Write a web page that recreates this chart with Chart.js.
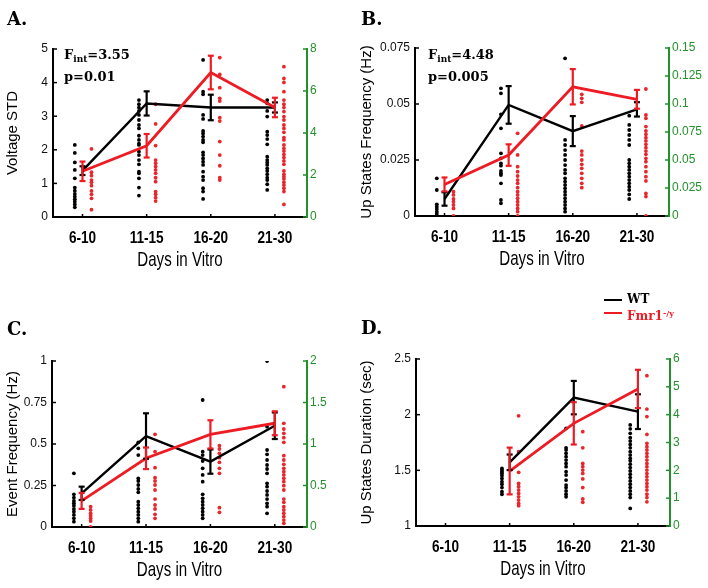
<!DOCTYPE html>
<html>
<head>
<meta charset="utf-8">
<script src="https://cdn.jsdelivr.net/npm/chart.js@4/dist/chart.umd.min.js"></script>
<style>
  body { margin: 0; background: #fff; }
  #fig { position: relative; width: 708px; height: 588px; overflow: hidden; background: #fff; }
  .panel { position: absolute; }
  .tag { position: absolute; font: bold 18px 'DejaVu Serif', serif; color: #000; line-height: 20px; }
  .stat { position: absolute; font: bold 13px 'DejaVu Serif', serif; color: #000; line-height: 17px; white-space: nowrap; }
  .stat sub { font-size: 9px; vertical-align: -3px; }
  .key { position: absolute; height: 2px; width: 18px; }
  .keytxt { position: absolute; font: bold 12px 'DejaVu Serif', serif; line-height: 14px; white-space: nowrap; }
  .keytxt sup { font-size: 8px; vertical-align: 4px; }
</style>
</head>
<body>
<div id="fig">
  <canvas id="chartA" class="panel" width="354" height="290" style="left:0;top:0"></canvas>
  <canvas id="chartB" class="panel" width="354" height="290" style="left:354px;top:0"></canvas>
  <canvas id="chartC" class="panel" width="354" height="298" style="left:0;top:290px"></canvas>
  <canvas id="chartD" class="panel" width="354" height="298" style="left:354px;top:290px"></canvas>

  <div class="tag" style="left:7px;top:9px">A.</div>
  <div class="tag" style="left:361px;top:9px">B.</div>
  <div class="tag" style="left:7px;top:319px">C.</div>
  <div class="tag" style="left:361px;top:318px">D.</div>

  <div class="stat" style="left:64px;top:46px">F<sub>int</sub>=3.55<br>p=0.01</div>
  <div class="stat" style="left:428px;top:46px">F<sub>int</sub>=4.48<br>p=0.005</div>

  <div class="key" style="left:604px;top:299px;background:#000"></div>
  <div class="keytxt" style="left:627px;top:292px;color:#000">WT</div>
  <div class="key" style="left:604px;top:312px;background:#ed1c24"></div>
  <div class="keytxt" style="left:627px;top:306px;color:#ed1c24">Fmr1<sup>-/y</sup></div>
</div>
<script>
const categories = ['6-10', '11-15', '16-20', '21-30']

// A. voltage STD (means on left axis, single cells on right axis)
const voltTicks = [0, 1, 2, 3, 4, 5]
const voltRightTicks = [0, 2, 4, 6, 8]
const voltWtMean = [1.38, 3.38, 3.26, 3.26]
const voltWtErr = [0.13, 0.36, 0.38, 0.15]
const voltKoMean = [1.36, 2.12, 4.30, 3.26]
const voltKoErr = [0.29, 0.35, 0.50, 0.29]
const voltWtDots = [
  [3.43, 3.05, 2.6, 2.24, 1.84, 1.4, 1.25, 1.1, 0.97, 0.84, 0.73, 0.6, 0.46],
  [5.57, 5.37, 5.21, 5.05, 4.86, 4.62, 4.38, 4.22, 3.87, 3.67, 3.49, 3.43, 3.11, 2.95, 2.71, 2.51, 2.16, 2.08, 1.84, 1.4, 1.02],
  [7.48, 5.97, 5.84, 4.86, 4.67, 4.1, 3.98, 3.83, 3.67, 3.56, 3.08, 2.95, 2.79, 2.63, 2.48, 2.16, 1.92, 1.76, 1.37, 1.21, 0.86],
  [5.57, 5.41, 5.05, 4.78, 4.06, 3.9, 3.71, 3.46, 2.87, 2.71, 2.6, 2.48, 2.32, 2.19, 2.03, 1.87, 1.76, 1.56, 1.29]
]
const voltKoDots = [
  [3.24, 2.13, 1.97, 1.76, 1.65, 1.49, 1.24, 1.08, 0.89, 0.35],
  [5.37, 4.43, 3.4, 2.71, 2.56, 2.4, 2.24, 2.08, 1.87, 1.68, 1.21, 1.08, 0.92, 0.76],
  [7.59, 6.79, 6.16, 5.65, 5.52, 4.73, 4.57, 3.59, 2.95, 2.44, 1.87, 1.76],
  [7.16, 6.6, 6.41, 5.97, 5.57, 5.37, 5.21, 5.02, 4.78, 4.62, 4.38, 4.22, 4.03, 3.78, 3.67, 3.43, 3.27, 3.14, 2.98, 2.83, 2.67, 2.51, 2.19, 2.03, 1.92, 1.81, 1.65, 1.52, 1.37, 1.21, 0.6]
]

// B. up states frequency
const upfTicks = [0, 0.025, 0.05, 0.075]
const upfRightTicks = [0, 0.025, 0.05, 0.075, 0.1, 0.125, 0.15]
const upfWtMean = [0.0076, 0.0496, 0.0379, 0.0476]
const upfWtErr = [0.0030, 0.0084, 0.0067, 0.0032]
const upfKoMean = [0.0141, 0.0272, 0.0577, 0.0521]
const upfKoErr = [0.0031, 0.0048, 0.0079, 0.0042]
const upfWtDots = [
  [0.0336, 0.0232, 0.0104, 0.0083, 0.0063, 0.0039, 0.0018],
  [0.114, 0.1095, 0.0908, 0.0783, 0.056, 0.0515, 0.047, 0.0449, 0.0402, 0.0381, 0.0366, 0.0292, 0.0143, 0.0113],
  [0.1408, 0.0679, 0.0634, 0.0589, 0.0545, 0.05, 0.0455, 0.0411, 0.0381, 0.0336, 0.0307, 0.0277, 0.0247, 0.0217, 0.0188, 0.0158, 0.0128, 0.0098, 0.0068, 0.0039],
  [0.0896, 0.0813, 0.0768, 0.0723, 0.0679, 0.0634, 0.05, 0.047, 0.044, 0.0411, 0.0381, 0.0351, 0.0321, 0.0292, 0.0262, 0.0232, 0.0193, 0.0152]
]
const upfKoDots = [
  [0.0217, 0.0188, 0.0152, 0.0128, 0.0098, 0.0068, 0],
  [0.0738, 0.0545, 0.044, 0.0396, 0.0357, 0.0321, 0.0292, 0.0253, 0.0217, 0.0188, 0.0158, 0.0128, 0.0098, 0.0068, 0.0039, 0],
  [0.1086, 0.1051, 0.1015, 0.0804, 0.058, 0.0545, 0.05, 0.0461, 0.0426, 0.0381, 0.0336, 0.0292, 0.0253],
  [0.1134, 0.0902, 0.0872, 0.0798, 0.0759, 0.0729, 0.0699, 0.067, 0.064, 0.061, 0.058, 0.0551, 0.0515, 0.0485, 0.044, 0.0396, 0.0351, 0.0313, 0.0202, 0.0173, 0]
]

// C. event frequency
const evTicks = [0, 0.25, 0.5, 0.75, 1]
const evRightTicks = [0, 0.5, 1, 1.5, 2]
const evWtMean = [0.203, 0.548, 0.394, 0.610]
const evWtErr = [0.040, 0.137, 0.073, 0.080]
const evKoMean = [0.157, 0.414, 0.558, 0.625]
const evKoErr = [0.048, 0.065, 0.085, 0.072]
const evWtDots = [
  [0.647, 0.394, 0.353, 0.313, 0.285, 0.257, 0.217, 0.185, 0.145, 0.104, 0.064],
  [1.02, 0.948, 0.867, 0.586, 0.554, 0.506, 0.458, 0.418, 0.305, 0.265, 0.225, 0.185, 0.145, 0.104, 0.064],
  [1.53, 0.908, 0.867, 0.795, 0.707, 0.627, 0.546, 0.394, 0.345, 0.305, 0.265, 0.225, 0.185, 0.145, 0.104],
  [2.0, 1.209, 0.928, 0.876, 0.807, 0.747, 0.699, 0.647, 0.526, 0.486, 0.434, 0.386, 0.337, 0.285, 0.245, 0.165]
]
const evKoDots = [
  [0.245, 0.205, 0.165, 0.137, 0.104, 0.072, 0],
  [1.116, 0.908, 0.715, 0.594, 0.554, 0.506, 0.446, 0.337, 0.265, 0.217, 0.153, 0.104],
  [0.98, 0.94, 0.888, 0.835, 0.779, 0.707, 0.647, 0.233, 0.177],
  [1.691, 1.249, 1.181, 1.129, 1.076, 1.02, 0.859, 0.807, 0.755, 0.707, 0.667, 0.627, 0.586, 0.546, 0.498, 0.446, 0.337, 0.297, 0.245, 0.205, 0.165, 0.125, 0.084, 0.044]
]

// D. up states duration (no up states at 6-10)
const durTicks = [1, 1.5, 2, 2.5]
const durRightTicks = [0, 1, 2, 3, 4, 5, 6]
const durWtMean = [null, 1.572, 2.153, 2.027]
const durWtErr = [null, 0.07, 0.15, 0.156]
const durKoMean = [null, 1.494, 1.922, 2.231]
const durKoErr = [null, 0.21, 0.19, 0.172]
const durWtDots = [
  [],
  [2.07, 2.01, 1.95, 1.89, 1.81, 1.71, 1.59, 1.5, 1.38, 1.23, 1.14],
  [3.51, 2.81, 2.73, 2.61, 2.49, 2.37, 2.25, 2.13, 1.95, 1.83, 1.65, 1.47, 1.38, 1.26, 1.14, 1.05],
  [3.63, 3.49, 3.33, 3.17, 3.05, 2.93, 2.81, 2.67, 2.55, 2.43, 2.34, 2.22, 2.1, 1.98, 1.86, 1.74, 1.62, 1.5, 1.38, 1.26, 1.14, 1.02, 0.63]
]
const durKoDots = [
  [],
  [3.96, 2.67, 1.93, 1.53, 1.41, 1.29, 1.17, 1.05, 0.93, 0.81, 0.73],
  [3.39, 2.81, 2.25, 2.13, 2.01, 1.89, 1.69, 1.38, 0.97, 0.85],
  [5.4, 4.2, 3.93, 3.29, 2.97, 2.85, 2.73, 2.61, 2.49, 2.37, 2.25, 2.13, 2.01, 1.89, 1.77, 1.65, 1.53, 1.41, 1.29, 1.14, 1.02, 0.87]
]

const BLACK = '#000'
const RED = '#ed1c24'
const DOT_RED = '#e8262c'
const GREEN = '#23912a'
const SANS = "'Liberation Sans', Arial, sans-serif"

const fmt = v => String(+Number(v).toFixed(4))

const means = arr => arr.map((v, i) => ({ x: i + 1, y: v }))
const dots = (groups, shift) => groups.flatMap((g, i) => g.map(v => ({ x: i + 1 + shift, y: v })))

// inward ticks, error bars and the narrow x-axis lettering of the original figure
const decorations = {
  id: 'decorations',
  afterDatasetsDraw (chart) {
    const { ctx, chartArea: a, scales: { x, y, y2 } } = chart
    const seg = (x1, y1, x2, y2p) => { ctx.beginPath(); ctx.moveTo(x1, y1); ctx.lineTo(x2, y2p); ctx.stroke() }
    ctx.save()
    ctx.lineWidth = 1.5
    ctx.strokeStyle = BLACK
    y.ticks.forEach(t => { const p = y.getPixelForValue(t.value); seg(a.left, p, a.left + 4, p) })
    x.ticks.forEach(t => { const p = x.getPixelForValue(t.value); seg(p, a.bottom, p, a.bottom - 3) })
    ctx.strokeStyle = GREEN
    y2.ticks.forEach(t => { const p = y2.getPixelForValue(t.value); seg(a.right - 4, p, a.right, p) })

    const bars = chart.data.datasets.filter(ds => ds.err).reverse()
    bars.forEach(ds => {
      ctx.strokeStyle = ds.borderColor
      ctx.lineWidth = 2.2
      ds.data.forEach((pt, i) => {
        const e = ds.err[i]
        if (pt.y == null || e == null) return
        const px = x.getPixelForValue(pt.x)
        const top = y.getPixelForValue(pt.y + e)
        const bot = y.getPixelForValue(pt.y - e)
        seg(px, top, px, bot)
        seg(px - 3, top, px + 3, top)
        seg(px - 3, bot, px + 3, bot)
      })
    })
    ctx.restore()
  },
  afterDraw (chart) {
    const { ctx, chartArea: a, scales: { x } } = chart
    const narrow = (text, cx, cy, font, sx) => {
      ctx.save()
      ctx.translate(cx, cy)
      ctx.scale(sx, 1)
      ctx.font = font
      ctx.fillStyle = BLACK
      ctx.textAlign = 'center'
      ctx.textBaseline = 'middle'
      ctx.fillText(text, 0, 0)
      ctx.restore()
    }
    x.ticks.forEach(t => {
      narrow(categories[Math.round(t.value) - 1], x.getPixelForValue(t.value), a.bottom + 21, `bold 17px ${SANS}`, 0.8)
    })
    narrow(chart.options.plugins.decorations.xTitle, (a.left + a.right) / 2, a.bottom + 43, `21px ${SANS}`, 0.72)
  }
}

function makePanel (id, p) {
  const canvas = document.getElementById(id)
  const w = canvas.width
  const h = canvas.height
  const xHeight = 59

  return new Chart(canvas, {
    type: 'line',
    data: {
      datasets: [
        { data: means(p.koMean), err: p.koErr, borderColor: RED, borderWidth: 2.8, pointRadius: 0, yAxisID: 'y' },
        { data: means(p.wtMean), err: p.wtErr, borderColor: BLACK, borderWidth: 2.4, pointRadius: 0, yAxisID: 'y' },
        { data: dots(p.wtDots, -0.12), showLine: false, pointRadius: 1.9, pointBorderWidth: 0, pointBackgroundColor: BLACK, yAxisID: 'y2' },
        { data: dots(p.koDots, 0.14), showLine: false, pointRadius: 1.9, pointBorderWidth: 0, pointBackgroundColor: DOT_RED, yAxisID: 'y2' }
      ]
    },
    options: {
      responsive: false,
      animation: false,
      layout: {
        padding: { top: p.area[1], bottom: h - p.area[3] - xHeight, left: 0, right: 0 }
      },
      plugins: {
        legend: { display: false },
        tooltip: { enabled: false },
        decorations: { xTitle: 'Days in Vitro' }
      },
      scales: {
        x: {
          type: 'linear',
          min: 0.54,
          max: 4.5,
          afterBuildTicks: s => { s.ticks = categories.map((c, i) => ({ value: i + 1 })) },
          afterFit: s => { s.height = xHeight },
          grid: { display: false, drawTicks: false },
          border: { color: BLACK, width: 2 },
          ticks: { display: false }
        },
        y: {
          position: 'left',
          min: p.ticks[0],
          max: p.ticks[p.ticks.length - 1],
          afterBuildTicks: s => { s.ticks = p.ticks.map(v => ({ value: v })) },
          afterFit: s => { s.width = p.area[0] },
          grid: { display: false, drawTicks: false },
          border: { color: BLACK, width: 2 },
          ticks: { callback: fmt, color: '#111', font: { family: SANS, size: 12 }, padding: 5 },
          title: { display: true, text: p.title, color: BLACK, font: { family: SANS, size: 15 }, padding: { top: 4, bottom: 2 } }
        },
        y2: {
          position: 'right',
          min: p.rightTicks[0],
          max: p.rightTicks[p.rightTicks.length - 1],
          afterBuildTicks: s => { s.ticks = p.rightTicks.map(v => ({ value: v })) },
          afterFit: s => { s.width = w - p.area[2] },
          grid: { display: false, drawTicks: false },
          border: { color: GREEN, width: 2 },
          ticks: { callback: fmt, color: GREEN, font: { family: SANS, size: 12 }, padding: 3 }
        }
      }
    },
    plugins: [decorations]
  })
}

makePanel('chartA', {
  title: 'Voltage STD', area: [53, 49, 307, 217], ticks: voltTicks, rightTicks: voltRightTicks,
  wtMean: voltWtMean, wtErr: voltWtErr, koMean: voltKoMean, koErr: voltKoErr, wtDots: voltWtDots, koDots: voltKoDots
})
makePanel('chartB', {
  title: 'Up States Frequency (Hz)', area: [61, 48, 315, 216], ticks: upfTicks, rightTicks: upfRightTicks,
  wtMean: upfWtMean, wtErr: upfWtErr, koMean: upfKoMean, koErr: upfKoErr, wtDots: upfWtDots, koDots: upfKoDots
})
makePanel('chartC', {
  title: 'Event Frequency (Hz)', area: [52, 71, 307, 237], ticks: evTicks, rightTicks: evRightTicks,
  wtMean: evWtMean, wtErr: evWtErr, koMean: evKoMean, koErr: evKoErr, wtDots: evWtDots, koDots: evKoDots
})
makePanel('chartD', {
  title: 'Up States Duration (sec)', area: [62, 69, 316, 236], ticks: durTicks, rightTicks: durRightTicks,
  wtMean: durWtMean, wtErr: durWtErr, koMean: durKoMean, koErr: durKoErr, wtDots: durWtDots, koDots: durKoDots
})
</script>
</body>
</html>
